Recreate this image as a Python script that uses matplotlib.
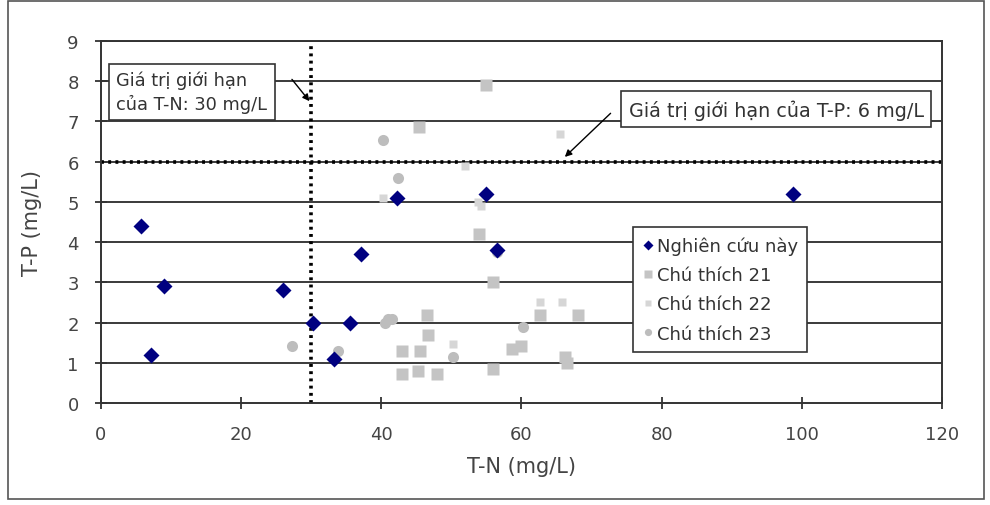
import matplotlib.pyplot as plt
from matplotlib.patches import Rectangle

# data
study_tn = [5.7, 9.0, 7.1, 26.0, 30.3, 35.5, 33.2, 37.1, 42.2, 55.0, 56.5, 98.7]
study_tp = [4.4, 2.9, 1.2, 2.8, 2.0, 2.0, 1.1, 3.7, 5.1, 5.2, 3.8, 5.2]

ref21_tn = [55.0, 45.4, 54.0, 56.0, 46.5, 46.6, 62.6, 68.0, 43.0, 45.5, 43.0, 48.0, 45.2, 56.0, 58.6, 60.0, 66.5, 66.2]
ref21_tp = [7.9, 6.85, 4.2, 3.0, 2.2, 1.7, 2.2, 2.2, 1.3, 1.3, 0.72, 0.72, 0.8, 0.85, 1.35, 1.42, 1.0, 1.15]

ref22_tn = [52.0, 65.5, 40.2, 53.8, 50.2, 62.6, 65.8, 54.2]
ref22_tp = [5.9, 6.7, 5.1, 5.0, 1.47, 2.5, 2.5, 4.9]

ref23_tn = [40.2, 42.4, 41.5, 40.5, 50.2, 60.2, 56.5, 27.2, 33.8, 41.0]
ref23_tp = [6.55, 5.6, 2.1, 2.0, 1.15, 1.9, 3.75, 1.42, 1.3, 2.1]

limit_tn = 30
limit_tp = 6

xticks = [0, 20, 40, 60, 80, 100, 120]
yticks = list(range(10))

plt.rcParams['font.family'] = ['DejaVu Sans']
fig = plt.figure(figsize=(9.9, 5.06), dpi=100)
ax = fig.add_axes([0.102, 0.2016, 0.8495, 0.7154])

# horizontal grid lines
for y in yticks[1:]:
    ax.axhline(y, color='#3a3a3a', lw=1.4, zorder=1)

# limit lines
ax.axvline(limit_tn, color='black', lw=2.6, ls=(0, (0.8, 1.2)), zorder=2)
ax.axhline(limit_tp, color='black', lw=2.6, ls=(0, (0.8, 1.2)), zorder=2)

ax.plot(ref21_tn, ref21_tp, 's', color='#c4c4c4', ms=9, mec='none', label='Chú thích 21', zorder=3)
ax.plot(ref22_tn, ref22_tp, 's', color='#d6d6d6', ms=6, mec='none', label='Chú thích 22', zorder=3)
ax.plot(ref23_tn, ref23_tp, 'o', color='#bdbdbd', ms=8, mec='none', label='Chú thích 23', zorder=3)
ax.plot(study_tn, study_tp, 'D', color='#000080', ms=8.5, mec='none', label='Nghiên cứu này', zorder=4)

ax.set_xlim(0, 120)
ax.set_ylim(0, 9)
ax.set_xticks(xticks)
ax.set_yticks(yticks)
ax.tick_params(direction='inout', length=8, width=1.3, colors='#333333', labelsize=13, labelcolor='#444444')
ax.tick_params(axis='x', pad=12)
ax.tick_params(axis='y', pad=12)
for s in ax.spines.values():
    s.set_color('#333333')
    s.set_linewidth(1.4)

ax.set_xlabel('T-N (mg/L)', fontsize=15, color='#444444', labelpad=9)
ax.set_ylabel('T-P (mg/L)', fontsize=15, color='#444444', labelpad=18)

# annotations
box = dict(boxstyle='square,pad=0.4', fc='white', ec='#333333', lw=1.2)
ax.annotate('', xy=(30, 7.45), xytext=(27, 8.1),
            arrowprops=dict(arrowstyle='-|>', color='black', lw=1.0), zorder=5)
ax.text(2.2, 7.74, 'Giá trị giới hạn\ncủa T-N: 30 mg/L', fontsize=12.8, color='#333333',
        va='center', ha='left', bbox=box, linespacing=1.3, zorder=6)
ax.annotate('', xy=(65.9, 6.07), xytext=(73.0, 7.25),
            arrowprops=dict(arrowstyle='-|>', color='black', lw=1.0), zorder=5)
ax.text(75.3, 7.3, 'Giá trị giới hạn của T-P: 6 mg/L', fontsize=13.8, color='#333333',
        va='center', ha='left', bbox=box, zorder=6)

handles, labels = ax.get_legend_handles_labels()
order = [3, 0, 1, 2]
leg = ax.legend([handles[i] for i in order], [labels[i] for i in order],
                loc='upper left', bbox_to_anchor=(0.622, 0.51), fontsize=13,
                frameon=True, fancybox=False, framealpha=1, edgecolor='#333333',
                handlelength=0.6, handletextpad=0.2, borderpad=0.5, labelspacing=0.62,
                markerscale=0.65)
leg.get_frame().set_linewidth(1.2)
for t in leg.get_texts():
    t.set_color('#333333')

# outer chart border
fig.patches.append(Rectangle((0.008, 0.012), 0.986, 0.984, transform=fig.transFigure,
                             fill=False, ec='#555555', lw=1.2))

fig.savefig('out.png', dpi=100)
